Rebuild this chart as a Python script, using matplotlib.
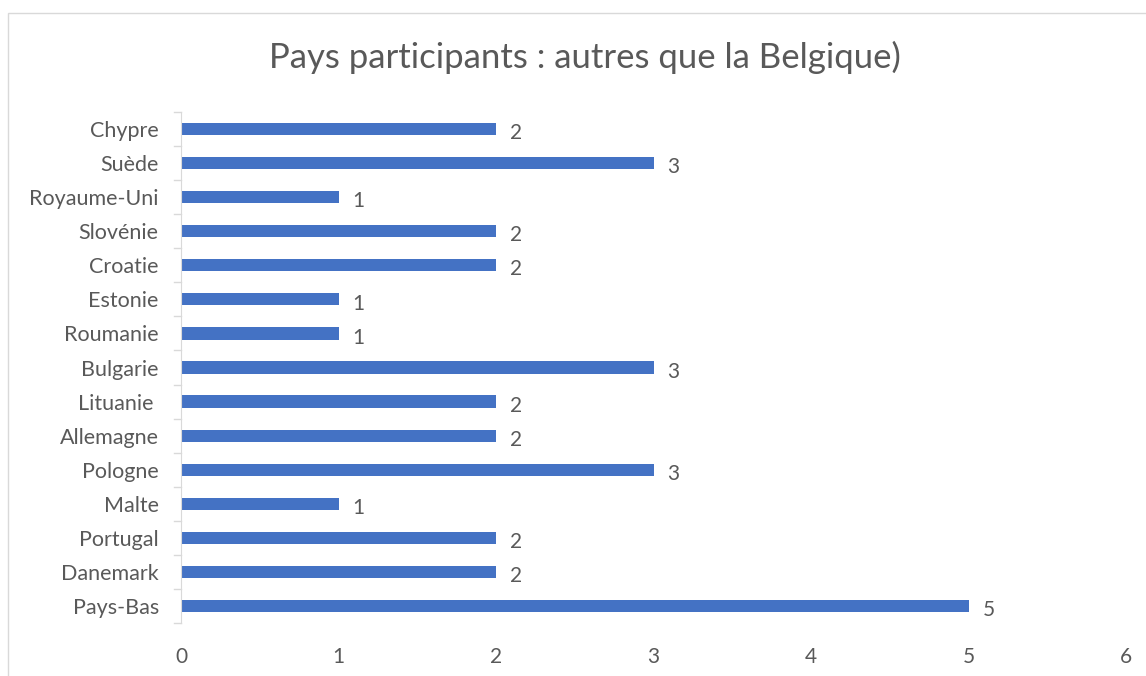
import matplotlib.pyplot as plt
from matplotlib.patches import Rectangle

# data, listed bottom to top as drawn
pays = ['Pays-Bas', 'Danemark', 'Portugal', 'Malte', 'Pologne', 'Allemagne',
        'Lituanie ', 'Bulgarie', 'Roumanie', 'Estonie', 'Croatie', 'Slovénie',
        'Royaume-Uni', 'Suède', 'Chypre']
nombre = [5, 2, 2, 1, 3, 2, 2, 3, 1, 1, 2, 2, 1, 3, 2]
xticks = [0, 1, 2, 3, 4, 5, 6]

grey = '#595959'
blue = '#4472C4'
plt.rcParams['font.family'] = ['Lato', 'DejaVu Sans']

fig = plt.figure(figsize=(11.46, 6.76), dpi=100)
ax = fig.add_axes([181 / 1146, 53 / 676, 945 / 1146, 511 / 676])

ypos = list(range(len(pays)))
ax.barh(ypos, nombre, height=0.36, color=blue)

for y, v in zip(ypos, nombre):
    ax.annotate(str(v), (v, y), xytext=(10, -3), textcoords='offset points',
                ha='left', va='center', fontsize=15, color=grey)

ax.set_xlim(0, 6)
ax.set_ylim(-0.5, len(pays) - 0.5)
ax.set_xticks(xticks)
ax.set_yticks(ypos)
ax.set_yticklabels(pays)
ax.tick_params(axis='x', length=0, pad=17, labelsize=15, labelcolor=grey)
ax.tick_params(axis='y', length=0, pad=16, labelsize=15.5, labelcolor=grey)

for s in ['top', 'right', 'bottom']:
    ax.spines[s].set_visible(False)
ax.spines['left'].set_color('#d9d9d9')

# category tick marks between bars
for b in [i - 0.5 for i in range(len(pays) + 1)]:
    ax.plot([-0.045, 0], [b, b], color='#d9d9d9', lw=1, clip_on=False)

fig.text(585 / 1146, 1 - 57 / 676, 'Pays participants : autres que la Belgique)',
         ha='center', va='center', fontsize=25, color=grey)

fig.patches.append(Rectangle((8 / 1146, -0.1), 1.2, (676 - 13) / 676 + 0.1,
                             transform=fig.transFigure, fill=False,
                             edgecolor='#d9d9d9', lw=1))

fig.savefig('out.png', dpi=100)
